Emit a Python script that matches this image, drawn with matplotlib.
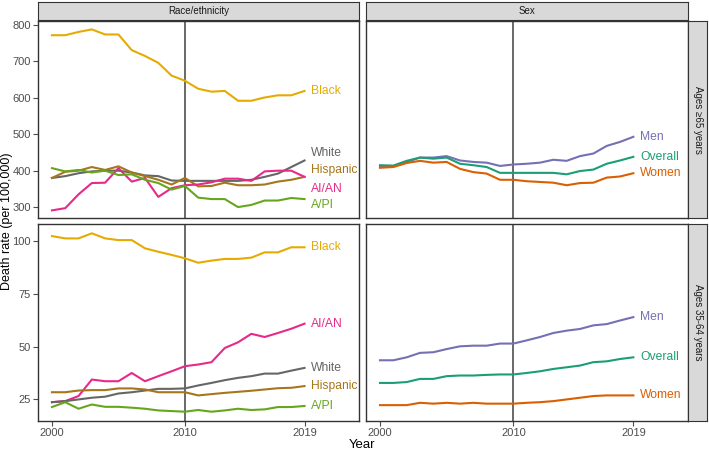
import numpy as np
import matplotlib
matplotlib.use('Agg')
import matplotlib.pyplot as plt

plt.rcParams['font.family'] = ['Liberation Sans', 'DejaVu Sans']

years = list(range(2000, 2020))

# ages >= 65, race/ethnicity
old_black = [772, 772, 781, 788, 774, 774, 731, 715, 696, 661, 647, 625, 617, 619, 592, 592, 601, 607, 607, 619]
old_white = [380, 385, 393, 398, 400, 400, 395, 387, 385, 373, 372, 372, 372, 372, 372, 375, 383, 392, 410, 428]
old_hisp = [380, 397, 400, 410, 402, 412, 395, 385, 375, 362, 380, 357, 358, 367, 360, 360, 362, 370, 375, 383]
old_aian = [291, 297, 335, 366, 367, 407, 370, 380, 328, 352, 360, 362, 368, 378, 378, 372, 398, 400, 400, 383]
old_api = [407, 398, 402, 395, 400, 388, 390, 375, 366, 348, 358, 326, 322, 322, 300, 306, 318, 318, 325, 322]

# ages >= 65, sex
old_men = [410, 412, 424, 436, 436, 440, 428, 424, 422, 413, 417, 419, 422, 430, 427, 440, 447, 468, 479, 493]
old_all = [415, 414, 427, 436, 433, 436, 419, 415, 410, 394, 394, 394, 394, 394, 390, 399, 403, 419, 428, 438]
old_women = [408, 410, 421, 427, 422, 424, 405, 396, 392, 375, 375, 371, 369, 367, 360, 366, 367, 381, 384, 393]

# ages 35-64, race/ethnicity
mid_black = [102.2, 101.1, 101.1, 103.5, 101.1, 100.3, 100.3, 96.4, 94.8, 93.3, 91.7, 89.6, 90.6, 91.4, 91.4, 92.0, 94.5, 94.5, 96.9, 96.9]
mid_aian = [23.7, 24.2, 26.6, 34.4, 33.6, 33.6, 37.5, 33.6, 36.0, 38.3, 40.7, 41.5, 42.6, 49.3, 52.0, 56.0, 54.5, 56.4, 58.4, 60.8]
mid_white = [23.7, 24.2, 25.0, 25.8, 26.3, 27.8, 28.4, 29.2, 30.0, 30.0, 30.2, 31.6, 32.8, 34.1, 35.2, 36.0, 37.2, 37.2, 38.6, 39.9]
mid_hisp = [28.4, 28.4, 29.2, 29.4, 29.4, 30.2, 30.2, 29.7, 28.4, 28.4, 28.4, 26.9, 27.5, 28.1, 28.6, 29.1, 29.7, 30.3, 30.5, 31.3]
mid_api = [21.4, 23.7, 20.6, 22.6, 21.5, 21.5, 21.1, 20.6, 19.8, 19.5, 19.2, 20.0, 19.2, 19.8, 20.6, 20.0, 20.3, 21.4, 21.4, 21.9]

# ages 35-64, sex
mid_men = [43.5, 43.5, 44.9, 47.0, 47.3, 48.8, 50.1, 50.4, 50.4, 51.4, 51.4, 52.9, 54.5, 56.4, 57.5, 58.3, 60.0, 60.6, 62.3, 63.9]
mid_all = [32.8, 32.8, 33.2, 34.7, 34.7, 36.0, 36.3, 36.3, 36.6, 36.8, 36.8, 37.5, 38.3, 39.4, 40.2, 41.0, 42.6, 43.0, 44.1, 44.9]
mid_women = [22.3, 22.3, 22.3, 23.4, 23.0, 23.4, 23.0, 23.4, 23.0, 23.0, 23.0, 23.4, 23.7, 24.2, 25.0, 25.8, 26.6, 26.9, 26.9, 26.9]

colors = {'Black': '#E6AB02', 'White': '#666666', 'Hispanic': '#A6761D',
          'AI/AN': '#E7298A', 'A/PI': '#66A61E',
          'Men': '#7570B3', 'Overall': '#1B9E77', 'Women': '#D95F02'}

# label nudges (data units) for the top-left facet, like ggrepel would do
nudge_old_race = {'Black': 0, 'White': 21, 'Hispanic': 18, 'AI/AN': -33, 'A/PI': -17}

panels = [
    ([0.0536, 0.5166, 0.4528, 0.4368], (270, 811), [300, 400, 500, 600, 700, 800],
     [('Black', old_black), ('White', old_white), ('Hispanic', old_hisp),
      ('AI/AN', old_aian), ('A/PI', old_api)], nudge_old_race, True, False),
    ([0.5162, 0.5166, 0.4542, 0.4368], (270, 811), [300, 400, 500, 600, 700, 800],
     [('Men', old_men), ('Overall', old_all), ('Women', old_women)], {}, False, False),
    ([0.0536, 0.0665, 0.4528, 0.4368], (14.8, 107.9), [25, 50, 75, 100],
     [('Black', mid_black), ('AI/AN', mid_aian), ('White', mid_white),
      ('Hispanic', mid_hisp), ('A/PI', mid_api)], {}, True, True),
    ([0.5162, 0.0665, 0.4542, 0.4368], (14.8, 107.9), [25, 50, 75, 100],
     [('Men', mid_men), ('Overall', mid_all), ('Women', mid_women)], {}, False, True),
]

fig = plt.figure(figsize=(7.09, 4.51), dpi=100)
border = '#333333'
tick_col = '#4D4D4D'

for rect, ylim, yticks, series, nudge, left, bottom in panels:
    ax = fig.add_axes(rect)
    ax.set_xlim(1998.95, 2023.1)
    ax.set_ylim(*ylim)
    ax.axvline(2010, color='#404040', lw=1.1, zorder=1)
    for name, vals in series:
        ax.plot(years, vals, color=colors[name], lw=1.5, zorder=2)
        ax.text(2019.5, vals[-1] + nudge.get(name, 0), name, color=colors[name],
                fontsize=8.7, va='center', ha='left')
    for s in ax.spines.values():
        s.set_color(border)
        s.set_linewidth(1.0)
    ax.set_yticks(yticks)
    ax.set_xticks([2000, 2010, 2019])
    ax.tick_params(colors=tick_col, labelcolor=tick_col, labelsize=8,
                   length=3.5, width=0.8, pad=1.5)
    if not left:
        ax.tick_params(axis='y', length=0, labelleft=False)
    if not bottom:
        ax.tick_params(axis='x', length=0, labelbottom=False)

# column strips
for rect, label in [([0.0536, 0.9557, 0.4528, 0.0399], 'Race/ethnicity'),
                    ([0.5162, 0.9557, 0.4542, 0.0399], 'Sex')]:
    sa = fig.add_axes(rect, facecolor='#D9D9D9')
    sa.set_xticks([])
    sa.set_yticks([])
    for s in sa.spines.values():
        s.set_color(border)
    sa.text(0.5, 0.5, label, ha='center', va='center', fontsize=7, color='#1A1A1A')

# row strips
for rect, label in [([0.9704, 0.5166, 0.0268, 0.4368], 'Ages \u226565 years'),
                    ([0.9704, 0.0665, 0.0268, 0.4368], 'Ages 35-64 years')]:
    sa = fig.add_axes(rect, facecolor='#D9D9D9')
    sa.set_xticks([])
    sa.set_yticks([])
    for s in sa.spines.values():
        s.set_color(border)
    sa.text(0.5, 0.5, label, ha='center', va='center', fontsize=7,
            rotation=-90, color='#1A1A1A')

fig.text(0.511, 0.0135, 'Year', ha='center', va='center', fontsize=9.5)
fig.text(0.0099, 0.51, 'Death rate (per 100,000)', rotation=90, ha='center',
         va='center', fontsize=9)

plt.savefig('out.png', dpi=100)
